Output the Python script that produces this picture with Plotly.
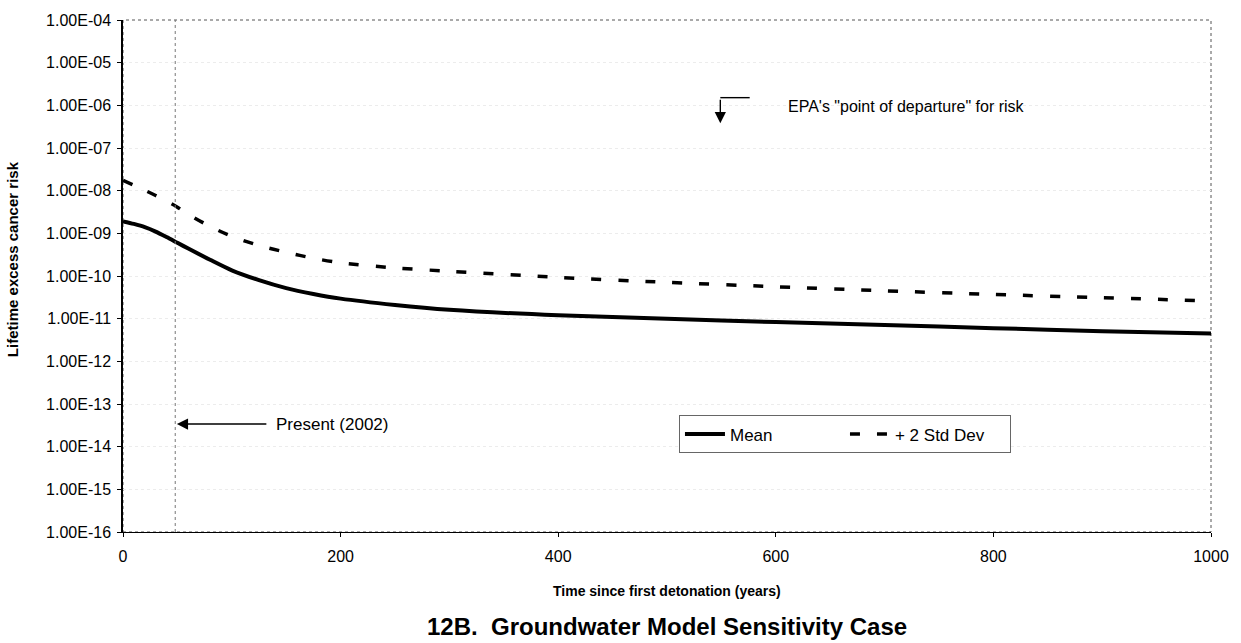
import plotly.graph_objects as go
import math

# ---- data ----
years = [0, 10, 20, 30, 40, 50, 60, 80, 100, 125, 150, 175, 200, 250, 300,
         400, 500, 600, 700, 800, 900, 1000]
mean_risk = [1.91e-9, 1.66e-9, 1.40e-9, 1.10e-9, 8.2e-10, 6.0e-10, 4.4e-10,
             2.4e-10, 1.36e-10, 8.0e-11, 5.2e-11, 3.8e-11, 2.95e-11, 2.1e-11,
             1.62e-11, 1.2e-11, 1.0e-11, 8.3e-12, 7.1e-12, 6.0e-12, 5.1e-12,
             4.5e-12]
plus2sd_risk = [1.74e-8, 1.34e-8, 1.02e-8, 7.7e-9, 5.7e-9, 4.1e-9, 2.8e-9,
                1.45e-9, 8.5e-10, 5.2e-10, 3.6e-10, 2.6e-10, 2.04e-10,
                1.55e-10, 1.29e-10, 9.3e-11, 7.1e-11, 5.6e-11, 4.5e-11,
                3.7e-11, 3.1e-11, 2.6e-11]
y_tick_values = [1e-4, 1e-5, 1e-6, 1e-7, 1e-8, 1e-9, 1e-10, 1e-11, 1e-12,
                 1e-13, 1e-14, 1e-15, 1e-16]
y_tick_labels = ["1.00E-04", "1.00E-05", "1.00E-06", "1.00E-07", "1.00E-08",
                 "1.00E-09", "1.00E-10", "1.00E-11", "1.00E-12", "1.00E-13",
                 "1.00E-14", "1.00E-15", "1.00E-16"]
x_tick_values = [0, 200, 400, 600, 800, 1000]
present_year = 48
epa_year = 549
epa_risk = 10 ** -6.42

Y_LOG_MIN, Y_LOG_MAX = -16, -4


def ypaper(v):
    return (math.log10(v) - Y_LOG_MIN) / (Y_LOG_MAX - Y_LOG_MIN)


FONT = "Arial, Liberation Sans, sans-serif"

fig = go.Figure()
fig.add_trace(go.Scatter(x=years, y=mean_risk, mode="lines", name="Mean",
                         line=dict(color="black", width=4, shape="spline",
                                   smoothing=0.8)))
fig.add_trace(go.Scatter(x=years, y=plus2sd_risk, mode="lines", name="+ 2 Std Dev",
                         line=dict(color="black", width=3.5, dash="10px,17px",
                                   shape="spline", smoothing=0.8)))

# plot frame (dotted top/right)
fig.add_shape(type="rect", xref="paper", yref="paper", x0=0, x1=1, y0=0, y1=1,
              line=dict(color="#555555", width=1, dash="dot"), layer="below")
# present vertical line
fig.add_shape(type="line", xref="x", yref="paper", x0=present_year, x1=present_year,
              y0=0, y1=1, line=dict(color="#777777", width=1, dash="dot"))

# Present arrow + text
present_y = ypaper(10 ** -13.47)
fig.add_annotation(x=present_year + 1.5, y=present_y, xref="x", yref="paper",
                   text="", showarrow=True, ax=91, ay=0, arrowhead=2,
                   arrowsize=1.6, arrowwidth=1.4, arrowcolor="black")
fig.add_annotation(x=139, y=present_y, xref="x", yref="paper",
                   text="Present (2002)", showarrow=False, xanchor="left",
                   yanchor="middle", font=dict(family=FONT, size=17, color="black"))

# EPA bent arrow + text
fig.add_annotation(x=epa_year, y=ypaper(epa_risk), xref="x", yref="paper",
                   text="", showarrow=True, ax=0, ay=-25, arrowhead=2,
                   arrowsize=1.6, arrowwidth=1.4, arrowcolor="black")
fig.add_shape(type="line", xref="x", yref="paper", x0=epa_year, x1=epa_year + 27,
              y0=ypaper(10 ** -5.82), y1=ypaper(10 ** -5.82),
              line=dict(color="black", width=1.4))
fig.add_annotation(x=609, y=ypaper(10 ** -6.03), xref="x", yref="paper",
                   text="EPA's \"point of departure\" for risk", showarrow=False,
                   xanchor="left", yanchor="middle",
                   font=dict(family=FONT, size=16, color="black"))

# axis titles and chart title
fig.add_annotation(x=-0.102, y=0.533, xref="paper", yref="paper",
                   xanchor="center", yanchor="middle",
                   text="<b>Lifetime excess cancer risk</b>", textangle=-90,
                   showarrow=False, font=dict(family=FONT, size=15, color="black"))
fig.add_annotation(x=0.5, y=-0.115, xref="paper", yref="paper",
                   xanchor="center", yanchor="middle",
                   text="<b>Time since first detonation (years)</b>",
                   showarrow=False, font=dict(family=FONT, size=14, color="black"))
fig.add_annotation(x=0.5, y=-0.185, xref="paper", yref="paper",
                   xanchor="center", yanchor="middle",
                   text="<b>12B.  Groundwater Model Sensitivity Case</b>",
                   showarrow=False,
                   font=dict(family="Liberation Sans Narrow, Arial Narrow, Arial",
                             size=24, color="black"))

fig.update_layout(
    width=1241, height=643,
    margin=dict(l=123, r=28, t=18, b=111),
    paper_bgcolor="white", plot_bgcolor="white",
    font=dict(family=FONT, color="black"),
    showlegend=True,
    legend=dict(orientation="h", x=0.511, y=0.2276, xanchor="left", yanchor="top",
                bordercolor="#666666", borderwidth=1, bgcolor="white",
                font=dict(family=FONT, size=17, color="black"),
                entrywidth=110, entrywidthmode="pixels",
                tracegroupgap=0, itemwidth=40),
)
fig.update_xaxes(range=[0, 1000], tickvals=x_tick_values,
                 tickfont=dict(family=FONT, size=16, color="black"),
                 showline=True, linecolor="black", linewidth=1,
                 ticks="outside", ticklen=4, tickcolor="black",
                 ticklabelstandoff=6,
                 showgrid=False, zeroline=False, mirror=False)
fig.update_yaxes(type="log", range=[Y_LOG_MIN, Y_LOG_MAX], tickvals=y_tick_values,
                 ticktext=y_tick_labels,
                 tickfont=dict(family=FONT, size=16, color="black"),
                 showline=True, linecolor="black", linewidth=1.5,
                 ticks="outside", ticklen=4, tickcolor="black",
                 ticklabelstandoff=3,
                 showgrid=True, gridcolor="#ececec", griddash="dot", gridwidth=1,
                 zeroline=False)

fig.write_html("out.html")
